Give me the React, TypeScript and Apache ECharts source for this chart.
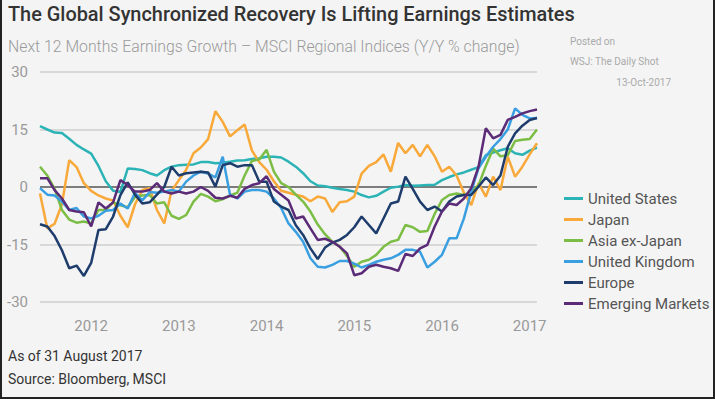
import React, { useEffect, useRef } from "react";
import * as echarts from "echarts";

// Monthly points, Jun 2011 .. Feb 2017 (69 points)
const startYear = 2011;
const startMonth = 6;
const months: string[] = [];
for (let i = 0; i < 69; i++) {
  const m = startMonth - 1 + i;
  const y = startYear + Math.floor(m / 12);
  const mm = (m % 12) + 1;
  months.push(`${y}-${mm < 10 ? "0" + mm : mm}`);
}

const seriesNames = ["United States", "Japan", "Asia ex-Japan", "United Kingdom", "Europe", "Emerging Markets"];
const seriesColors = ["#2bb3b6", "#f8a93a", "#7cbd46", "#3a9fe0", "#1e3c6c", "#5b2b78"];

const unitedStates = [15.9, 15.0, 14.2, 14.1, 12.6, 11.0, 9.8, 8.7, 5.5, 1.5, -1.0, -1.3, 4.8, 4.7, 4.4, 3.6, 3.0, 4.4, 5.3, 5.7, 5.8, 5.9, 6.5, 6.5, 6.2, 6.3, 6.6, 6.9, 7.0, 7.3, 7.5, 7.9, 7.9, 7.7, 6.6, 5.3, 3.6, 1.5, 0.4, 0.2, -0.2, -0.5, -0.8, -1.2, -2.1, -2.7, -2.3, -1.2, -0.2, 0.1, 0.5, 0.3, 0.4, 0.5, 0.6, 1.8, 2.6, 3.3, 3.8, 4.5, 5.2, 8.3, 9.0, 9.6, 10.1, 8.8, 8.4, 9.5, 10.3];
const japan = [-1.7, -10.8, -9.6, -4.5, 7.0, 5.2, 1.0, -1.0, -2.2, -3.0, -3.5, -7.5, -10.5, -4.5, -0.8, -0.3, -6.0, -9.5, -1.0, 1.8, 4.5, 8.8, 10.3, 12.5, 19.8, 17.0, 13.2, 14.8, 16.3, 9.5, 6.5, 4.5, 1.5, -1.0, -1.5, -2.0, -2.5, -3.7, -2.5, -3.0, -6.5, -4.0, -3.7, -2.5, 3.5, 5.5, 6.5, 8.5, 4.0, 11.5, 8.8, 11.0, 8.0, 11.0, 8.0, 4.0, 5.3, 3.0, -1.5, -4.7, 1.0, -2.5, 2.7, -0.8, 7.9, 2.7, 5.3, 8.5, 11.4];
const asiaExJapan = [5.3, 3.0, -0.5, -6.0, -8.5, -9.3, -9.0, -9.5, -6.0, -6.0, -4.0, -4.8, -5.3, -2.6, -2.2, -2.1, -4.3, -4.0, -7.5, -8.3, -7.3, -3.8, -1.8, -2.5, -3.7, -3.2, -2.2, -1.5, 3.0, 6.8, 7.2, 9.7, 4.0, 1.0, 0.0, -2.0, -3.8, -6.4, -9.8, -12.3, -14.3, -15.5, -18.0, -20.8, -19.5, -19.0, -17.7, -15.6, -14.3, -13.8, -9.9, -10.5, -11.7, -11.5, -7.0, -3.4, -2.1, -1.7, -2.1, -1.2, 0.5, 5.5, 10.0, 8.0, 8.3, 12.0, 12.3, 12.5, 15.0];
const unitedKingdom = [-0.3, -2.0, -2.2, -3.8, -6.0, -5.5, -7.7, -8.2, -7.5, -6.2, -6.0, -4.3, -5.6, -1.5, -3.5, -1.3, -1.5, -1.2, -0.8, -1.2, 1.4, 3.0, 4.0, 3.5, 2.5, 7.9, -2.0, -3.0, -1.2, -0.8, -0.8, -1.2, -3.0, -5.5, -9.5, -11.7, -14.3, -18.6, -20.8, -21.0, -20.3, -19.3, -19.3, -20.0, -21.0, -20.3, -19.5, -19.0, -18.6, -17.7, -16.4, -16.4, -16.9, -21.0, -19.5, -17.7, -13.4, -13.4, -8.2, -1.2, 4.9, 7.9, 10.5, 12.5, 15.0, 20.5, 18.8, 17.9, 18.0];
const europe = [-9.7, -10.3, -12.8, -16.5, -21.2, -20.5, -23.2, -19.8, -11.2, -11.0, -7.7, -2.1, 1.2, -2.0, -4.3, -4.0, -2.0, 0.0, 5.3, 3.0, 3.6, 3.8, 4.0, 3.8, 0.1, 5.7, 6.2, 5.3, 5.7, 5.7, 1.4, 1.4, -3.8, -5.1, -6.0, -10.0, -12.5, -16.0, -18.8, -15.8, -14.5, -13.8, -12.5, -10.5, -7.7, -9.9, -12.1, -8.2, -4.3, -3.8, 2.7, -0.5, -3.8, -6.0, -5.1, -6.4, -3.8, -2.5, -2.1, -2.1, 0.1, 2.5, 0.5, 3.0, 10.5, 14.0, 16.0, 17.5, 18.0];
const emergingMarkets = [2.3, 2.3, -0.8, -3.0, -6.0, -6.4, -6.6, -10.3, -4.0, -5.6, -4.0, 1.8, 0.5, -1.2, -1.2, -0.8, 1.0, -1.2, -1.7, -1.2, -1.7, -1.2, 0.0, -1.0, -2.8, -3.0, -2.3, -2.8, -0.5, 0.5, 1.0, 2.8, -0.5, -2.0, -3.5, -8.2, -7.7, -10.8, -13.8, -13.5, -14.3, -15.6, -17.3, -23.0, -22.5, -20.8, -20.3, -20.8, -21.2, -21.9, -17.5, -18.0, -16.0, -15.1, -10.3, -6.4, -4.3, -4.7, -3.0, -0.3, 5.3, 15.3, 12.7, 13.6, 17.5, 18.3, 19.2, 19.8, 20.2];

const seriesData = [unitedStates, japan, asiaExJapan, unitedKingdom, europe, emergingMarkets];
const yTicks = [-30, -15, 0, 15, 30];

const FONT = "Roboto, 'Liberation Sans', Arial, sans-serif";

export default function App() {
  const ref = useRef<HTMLDivElement>(null);
  useEffect(() => {
    document.body.style.margin = "0";
    const chart = echarts.init(ref.current!, undefined, { renderer: "svg" });
    chart.setOption({
      animation: false,
      backgroundColor: "#f4f4f4",
      textStyle: { fontFamily: FONT },
      title: [
        {
          text: "The Global Synchronized Recovery Is Lifting Earnings Estimates",
          left: 1,
          top: -1,
          textStyle: { fontSize: 19.9, fontWeight: 500, color: "#333", fontFamily: FONT },
        },
        {
          text: "Next 12 Months Earnings Growth – MSCI Regional Indices (Y/Y % change)",
          left: 1,
          top: 33,
          textStyle: { fontSize: 15.8, fontWeight: 300, color: "#9a9a9a", fontFamily: FONT },
        },
        { text: "Posted on", left: 563, top: 31, textStyle: { fontSize: 10, fontWeight: "normal", color: "#aaa", fontFamily: FONT } },
        { text: "WSJ: The Daily Shot", left: 563, top: 51, textStyle: { fontSize: 10, fontWeight: "normal", color: "#aaa", fontFamily: FONT } },
        { text: "13-Oct-2017", right: 37, top: 72, textStyle: { fontSize: 10, fontWeight: "normal", color: "#aaa", fontFamily: FONT } },
        { text: "As of 31 August 2017", left: 1, top: 344, textStyle: { fontSize: 14, fontWeight: "normal", color: "#333", fontFamily: FONT } },
        { text: "Source: Bloomberg, MSCI", left: 1, top: 367, textStyle: { fontSize: 14, fontWeight: "normal", color: "#333", fontFamily: FONT } },
      ],
      legend: {
        orient: "vertical",
        left: 557,
        top: 186,
        icon: "rect",
        itemWidth: 19,
        itemHeight: 3,
        itemGap: 6,
        data: seriesNames,
        textStyle: { fontSize: 15, color: "#555", lineHeight: 15, fontFamily: FONT },
      },
      grid: { left: 38, right: 176, top: 72, bottom: 95 },
      xAxis: {
        type: "category",
        data: months,
        boundaryGap: false,
        axisLine: { show: false },
        axisTick: { show: false },
        splitLine: { show: false },
        axisLabel: {
          interval: (idx: number, val: string) => val.endsWith("-01"),
          formatter: (val: string) => val.slice(0, 4),
          color: "#999",
          fontSize: 15,
          margin: 16,
          fontFamily: FONT,
        },
      },
      yAxis: {
        type: "value",
        min: -30,
        max: 30,
        interval: 15,
        axisLine: { show: false },
        axisTick: { show: false },
        axisLabel: {
          color: "#999",
          fontSize: 15,
          margin: 12,
          fontFamily: FONT,
          formatter: (v: number) => (yTicks.includes(v) ? String(v) : ""),
        },
        splitLine: {
          lineStyle: { color: ["#cfcfcf", "#cfcfcf", "#555", "#cfcfcf", "#cfcfcf"], width: 1.5 },
        },
      },
      series: seriesNames.map((name, k) => ({
        name,
        type: "line",
        data: seriesData[k],
        symbol: "none",
        color: seriesColors[k],
        lineStyle: { width: 2.5, color: seriesColors[k] },
      })),
    });
    return () => chart.dispose();
  }, []);
  return (
    <div
      style={{
        position: "absolute",
        left: 0,
        top: 0,
        width: 715,
        height: 399,
        boxSizing: "border-box",
        borderLeft: "2px solid #222",
        borderRight: "2px solid #222",
        borderBottom: "2px solid #222",
        background: "#f4f4f4",
      }}
    >
      <div ref={ref} style={{ width: 711, height: 397 }} />
    </div>
  );
}
